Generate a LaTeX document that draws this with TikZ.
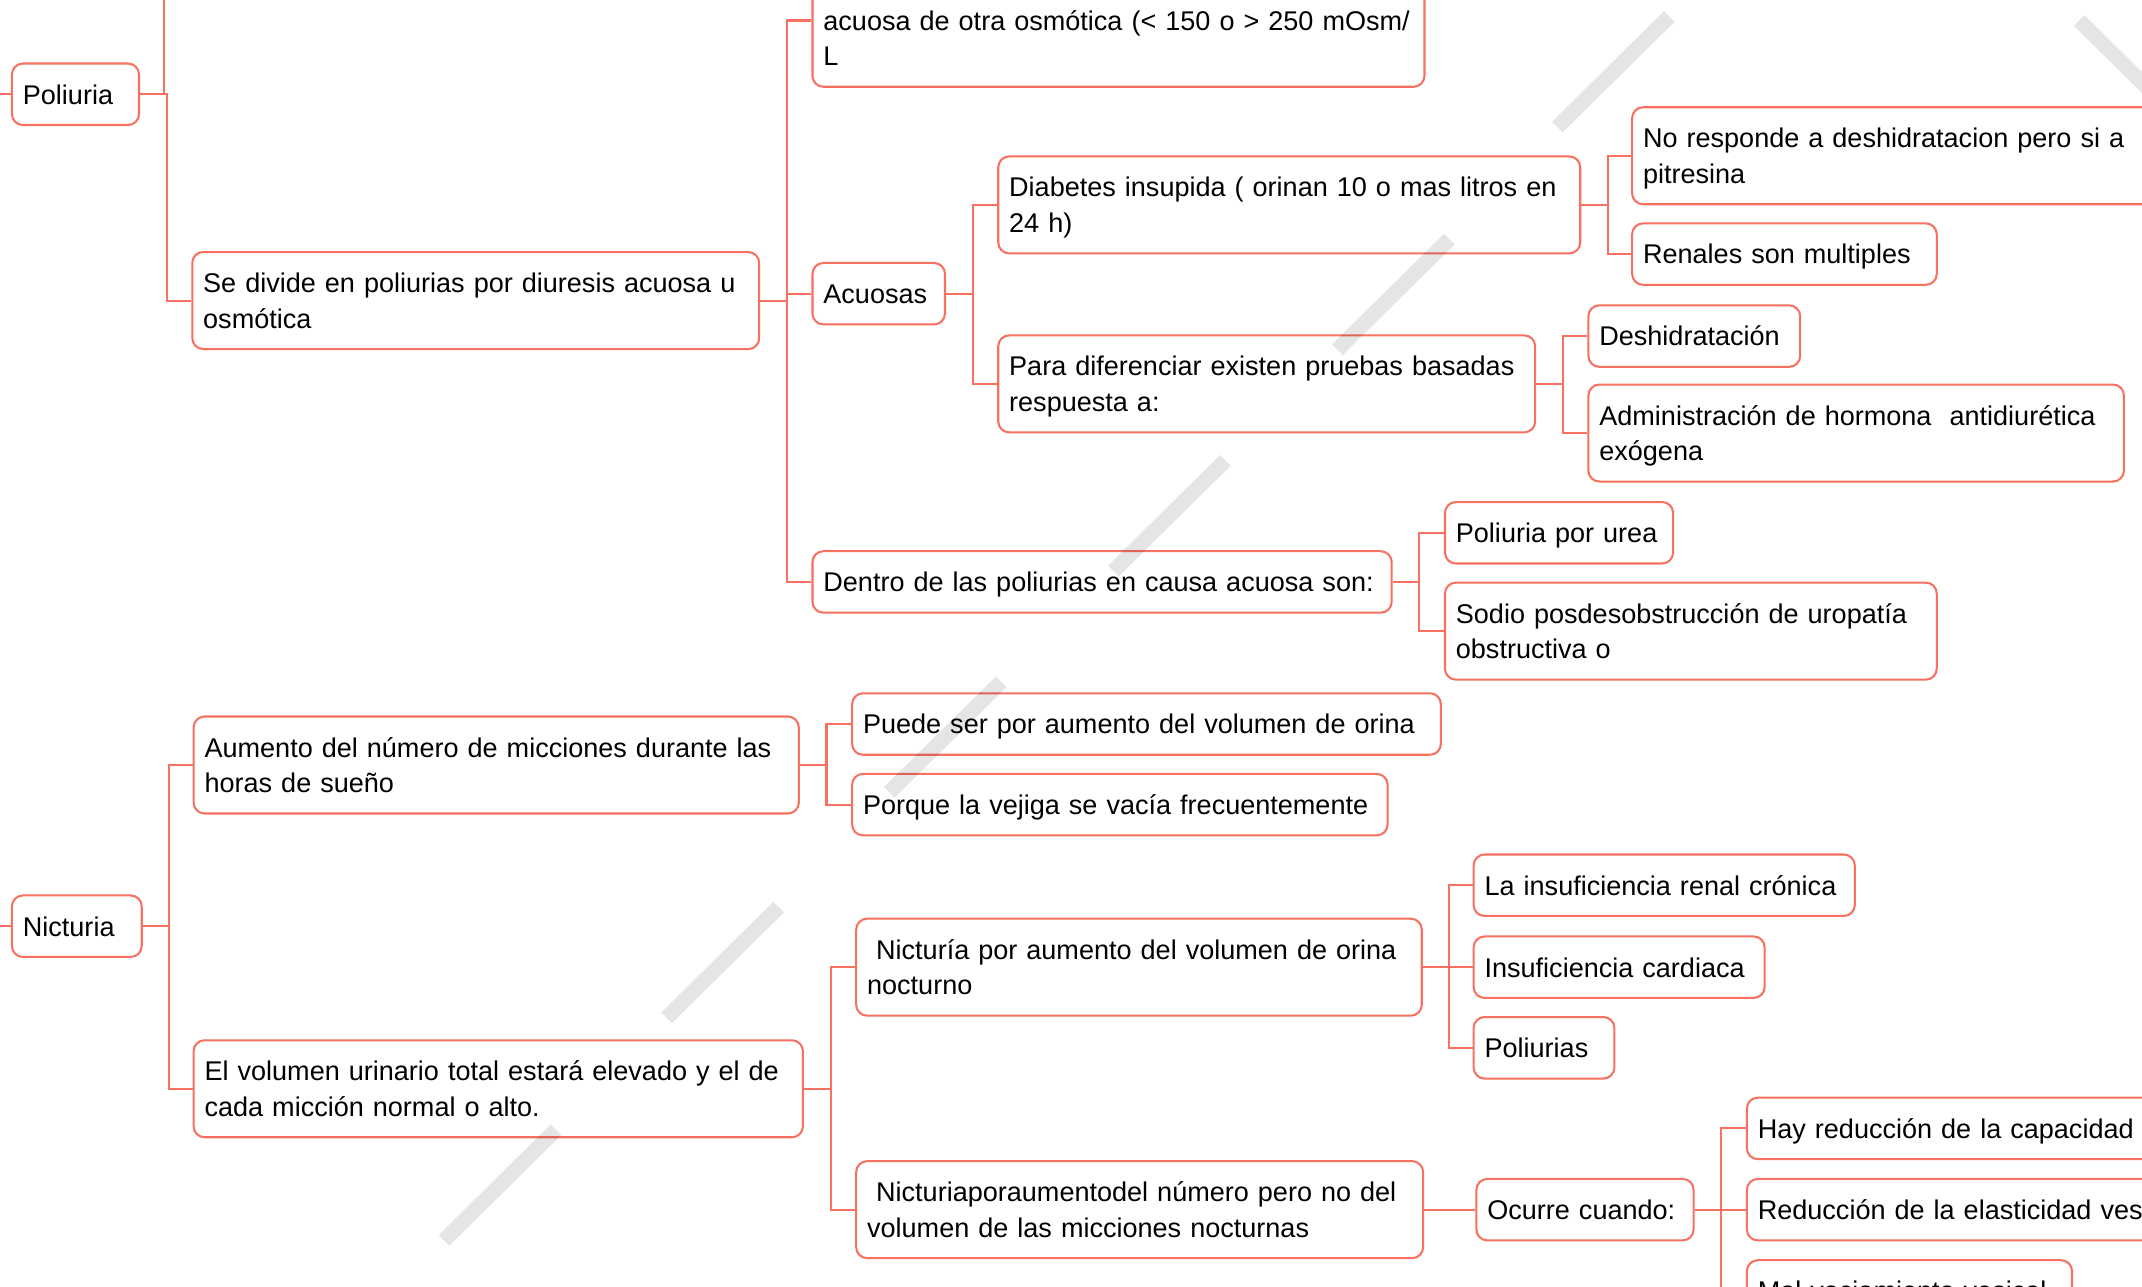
\documentclass[tikz,border=0pt]{standalone}
\usepackage{fontspec}
\setmainfont{Liberation Sans}
\definecolor{mapline}{RGB}{247,112,96}
\newcommand{\mapstrut}{\rule[-5.8pt]{0pt}{26pt}}
\tikzset{
  idea/.style={draw=mapline, line width=1.5pt, rounded corners=8pt, fill=white,
    anchor=west, align=left, inner xsep=8pt, inner ysep=0pt,
    font=\fontsize{19.8}{26}\selectfont,
    execute at begin node=\mapstrut, execute at end node=\mapstrut},
  h1/.style={minimum height=45pt},
  h2/.style={minimum height=71pt},
  h3/.style={minimum height=97pt},
  link/.style={draw=mapline, line width=1.5pt},
  wmbar/.style={line width=11pt, black, opacity=0.1}
}
\begin{document}
\begin{tikzpicture}[x=1pt, y=-1pt]
  \useasboundingbox (0,0) rectangle (1568,942);
  \fill[white] (0,0) rectangle (1568,942);
  \clip (0,0) rectangle (1568,942);

  % Poliuria
  \node[idea, h1, text width=77pt] (pol) at (8,69) {Poliuria};
  \node[idea, h2, text width=399pt] (sediv) at (140,220) {Se divide en poliurias por diuresis acuosa u\\osmótica};
  \node[idea, h3, text width=432pt] (osm) at (594,15) {\mbox{}\\acuosa de otra osmótica (< 150 o > 250 mOsm/\\L};
  \node[idea, h1, text width=81pt] (acu) at (594,215) {Acuosas};
  \node[idea, h1, text width=408pt] (dentro) at (594,426) {Dentro de las poliurias en causa acuosa son:};
  \node[idea, h2, text width=410pt] (diab) at (730,150) {Diabetes insupida ( orinan 10 o mas litros en\\24 h)};
  \node[idea, h2, text width=377pt] (para) at (730,281) {Para diferenciar existen pruebas basadas\\respuesta a:};
  \node[idea, h2, text width=370pt] (nores) at (1194,114) {No responde a deshidratacion pero si a\\pitresina};
  \node[idea, h1, text width=207pt] (renal) at (1194,186) {Renales son multiples};
  \node[idea, h1, text width=139pt] (deshi) at (1162,246) {Deshidratación};
  \node[idea, h2, text width=376pt] (admin) at (1162,317) {Administración de hormona\ \ antidiurética\\exógena};
  \node[idea, h1, text width=151pt] (urea) at (1057,390) {Poliuria por urea};
  \node[idea, h2, text width=344pt] (sodio) at (1057,462) {Sodio posdesobstrucción de uropatía\\obstructiva o};

  % Nicturia
  \node[idea, h1, text width=79pt] (nic) at (8,678) {Nicturia};
  \node[idea, h2, text width=427pt] (aum) at (141,560) {Aumento del número de micciones durante las\\horas de sueño};
  \node[idea, h2, text width=430pt] (vol) at (141,797) {El volumen urinario total estará elevado y el de\\cada micción normal o alto.};
  \node[idea, h1, text width=415pt] (puede) at (623,530) {Puede ser por aumento del volumen de orina};
  \node[idea, h1, text width=376pt] (porque) at (623,589) {Porque la vejiga se vacía frecuentemente};
  \node[idea, h2, text width=398pt] (nocvol) at (626,708) {\ Nicturía por aumento del volumen de orina\\nocturno};
  \node[idea, h2, text width=399pt] (nocnum) at (626,885.5) {\ Nicturiaporaumentodel número pero no del\\volumen de las micciones nocturnas};
  \node[idea, h1, text width=263pt] (insren) at (1078,648) {La insuficiencia renal crónica};
  \node[idea, h1, text width=197pt] (inscar) at (1078,708) {Insuficiencia cardiaca};
  \node[idea, h1, text width=87pt] (polis) at (1078,767) {Poliurias};
  \node[idea, h1, text width=143pt] (ocurre) at (1080,885.5) {Ocurre cuando:};
  \node[idea, h1, text width=310pt] (capac) at (1278,826) {Hay reducción de la capacidad};
  \node[idea, h1, text width=310pt] (elast) at (1278,885.5) {Reducción de la elasticidad ves};
  \node[idea, h1, text width=222pt] (malvac) at (1278,945) {Mal vaciamiento vesical};

  % ramas
  \coordinate (polin) at (-2,69);
  \coordinate (nicin) at (-2,678);
  \coordinate (polup) at (120,-5);
  \draw[link] (polin) -- (pol.west);
  \draw[link] (nicin) -- (nic.west);
  \draw[link] (pol.east) -| (polup);
  \foreach \p/\c in {pol/sediv, sediv/osm, sediv/acu, sediv/dentro,
      acu/diab, acu/para, diab/nores, diab/renal, para/deshi, para/admin,
      dentro/urea, dentro/sodio, nic/aum, nic/vol, aum/puede, aum/porque,
      vol/nocvol, vol/nocnum, nocvol/insren, nocvol/inscar, nocvol/polis,
      nocnum/ocurre, ocurre/capac, ocurre/elast, ocurre/malvac} {
    \draw[link] (\p.east) -- ++(19.5,0) |- (\c.west);
  }

  % marca de agua
  \foreach \x/\y in {1140/93, 979/256, 815/418, 651/580, 488/745, 325/908}
    \draw[wmbar] (\x,\y) -- ++(82,-81);
  \draw[wmbar] (1522,15) -- ++(82,81);
\end{tikzpicture}
\end{document}
